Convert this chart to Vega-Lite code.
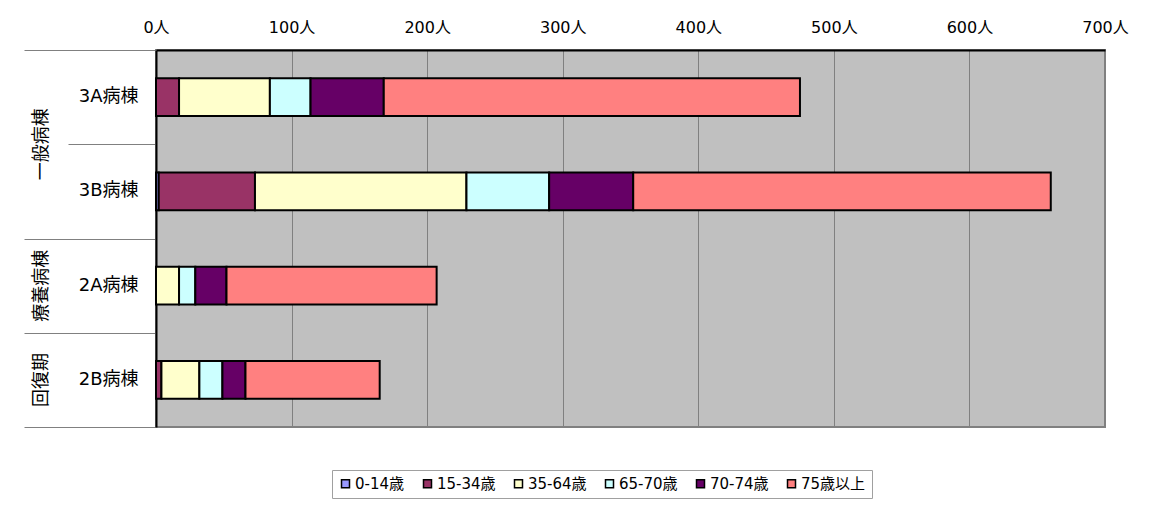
{
  "$schema": "https://vega.github.io/schema/vega-lite/v6.json",
  "width": 949,
  "height": 377,
  "autosize": {"type": "none"},
  "padding": {"left": 156, "top": 50, "right": 52, "bottom": 84},
  "background": "white",
  "config": {
    "font": "DejaVu Sans, Noto Sans CJK JP",
    "view": {"fill": "#C0C0C0", "stroke": "#808080", "strokeWidth": 2},
    "axis": {"labelFont": "DejaVu Sans, Noto Sans CJK JP", "labelColor": "black"},
    "legend": {"labelFont": "DejaVu Sans, Noto Sans CJK JP", "labelColor": "black"}
  },
  "data": {
    "values": [
      {"ward": "3A病棟", "group": "一般病棟", "age": "15-34歳", "ord": 2, "value": 17},
      {"ward": "3A病棟", "group": "一般病棟", "age": "35-64歳", "ord": 3, "value": 67},
      {"ward": "3A病棟", "group": "一般病棟", "age": "65-70歳", "ord": 4, "value": 30},
      {"ward": "3A病棟", "group": "一般病棟", "age": "70-74歳", "ord": 5, "value": 54},
      {"ward": "3A病棟", "group": "一般病棟", "age": "75歳以上", "ord": 6, "value": 307},
      {"ward": "3B病棟", "group": "一般病棟", "age": "0-14歳", "ord": 1, "value": 2},
      {"ward": "3B病棟", "group": "一般病棟", "age": "15-34歳", "ord": 2, "value": 71},
      {"ward": "3B病棟", "group": "一般病棟", "age": "35-64歳", "ord": 3, "value": 156},
      {"ward": "3B病棟", "group": "一般病棟", "age": "65-70歳", "ord": 4, "value": 61},
      {"ward": "3B病棟", "group": "一般病棟", "age": "70-74歳", "ord": 5, "value": 62},
      {"ward": "3B病棟", "group": "一般病棟", "age": "75歳以上", "ord": 6, "value": 308},
      {"ward": "2A病棟", "group": "療養病棟", "age": "35-64歳", "ord": 3, "value": 17},
      {"ward": "2A病棟", "group": "療養病棟", "age": "65-70歳", "ord": 4, "value": 12},
      {"ward": "2A病棟", "group": "療養病棟", "age": "70-74歳", "ord": 5, "value": 23},
      {"ward": "2A病棟", "group": "療養病棟", "age": "75歳以上", "ord": 6, "value": 155},
      {"ward": "2B病棟", "group": "回復期", "age": "15-34歳", "ord": 2, "value": 4},
      {"ward": "2B病棟", "group": "回復期", "age": "35-64歳", "ord": 3, "value": 28},
      {"ward": "2B病棟", "group": "回復期", "age": "65-70歳", "ord": 4, "value": 17},
      {"ward": "2B病棟", "group": "回復期", "age": "70-74歳", "ord": 5, "value": 17},
      {"ward": "2B病棟", "group": "回復期", "age": "75歳以上", "ord": 6, "value": 99}
    ]
  },
  "layer": [
    {
      "mark": {"type": "bar", "opacity": 0},
      "encoding": {
        "y": {
          "field": "ward", "type": "nominal",
          "sort": ["3A病棟", "3B病棟", "2A病棟", "2B病棟"],
          "scale": {"domain": ["3A病棟", "3B病棟", "2A病棟", "2B病棟"], "paddingInner": 0, "paddingOuter": 0},
          "axis": {"orient": "left", "title": null, "labels": false, "domain": false, "grid": false, "tickBand": "extent", "tickColor": "#808080", "tickWidth": 1, "tickSize": {"condition": {"test": "datum.value === '3A病棟'", "value": 88}, "value": 132}}
        }
      }
    },
    {
      "mark": {"type": "bar", "stroke": "black", "strokeWidth": 2},
      "encoding": {
        "y": {
          "field": "ward", "type": "nominal",
          "sort": ["3A病棟", "3B病棟", "2A病棟", "2B病棟"],
          "scale": {"domain": ["3A病棟", "3B病棟", "2A病棟", "2B病棟"], "paddingInner": 0.6, "paddingOuter": 0.3},
          "axis": {"orient": "left", "title": null, "ticks": false, "domainColor": "black", "domainWidth": 2, "labelFontSize": 18, "labelPadding": 18}
        },
        "x": {
          "field": "value", "type": "quantitative", "stack": "zero",
          "scale": {"domain": [0, 700], "nice": false},
          "axis": {"orient": "top", "title": null, "values": [0, 100, 200, 300, 400, 500, 600, 700], "labelExpr": "datum.value + '人'", "ticks": false, "grid": true, "gridColor": "#808080", "gridWidth": 1, "domainColor": "black", "domainWidth": 2, "labelFontSize": 16, "labelPadding": 15, "labelFlush": false}
        },
        "color": {
          "field": "age", "type": "nominal",
          "scale": {"domain": ["0-14歳", "15-34歳", "35-64歳", "65-70歳", "70-74歳", "75歳以上"], "range": ["#9999FF", "#993366", "#FFFFCC", "#CCFFFF", "#660066", "#FF8080"]},
          "legend": {"orient": "none", "legendX": 176, "legendY": 420, "direction": "horizontal", "title": null, "symbolType": "square", "symbolSize": 64, "symbolStrokeColor": "black", "symbolStrokeWidth": 1.5, "symbolOpacity": 1, "labelFontSize": 15, "labelOffset": 2, "strokeColor": "#a0a0a0", "fillColor": "white", "padding": 6, "columnPadding": 15}
        },
        "order": {"field": "ord", "type": "quantitative"}
      }
    },
    {
      "mark": {"type": "bar", "opacity": 0},
      "encoding": {
        "y": {
          "field": "ward", "type": "nominal",
          "sort": ["3A病棟", "3B病棟", "2A病棟", "2B病棟"],
          "scale": {"domain": ["3A病棟", "3B病棟", "2A病棟", "2B病棟"], "paddingInner": 0.6, "paddingOuter": 0.3},
          "axis": {"orient": "left", "title": null, "ticks": false, "domain": false, "grid": false, "labelAngle": -90, "labelAlign": "center", "labelBaseline": "bottom", "labelPadding": 106, "labelFontSize": 18, "labelExpr": "datum.value === '3A病棟' ? '一般病棟' : datum.value === '2A病棟' ? '療養病棟' : datum.value === '2B病棟' ? '回復期' : ''", "labelOffset": {"condition": {"test": "datum.value === '3A病棟'", "value": 47}, "value": 0}}
        }
      }
    }
  ],
  "resolve": {"scale": {"y": "independent"}, "axis": {"y": "independent"}}
}
